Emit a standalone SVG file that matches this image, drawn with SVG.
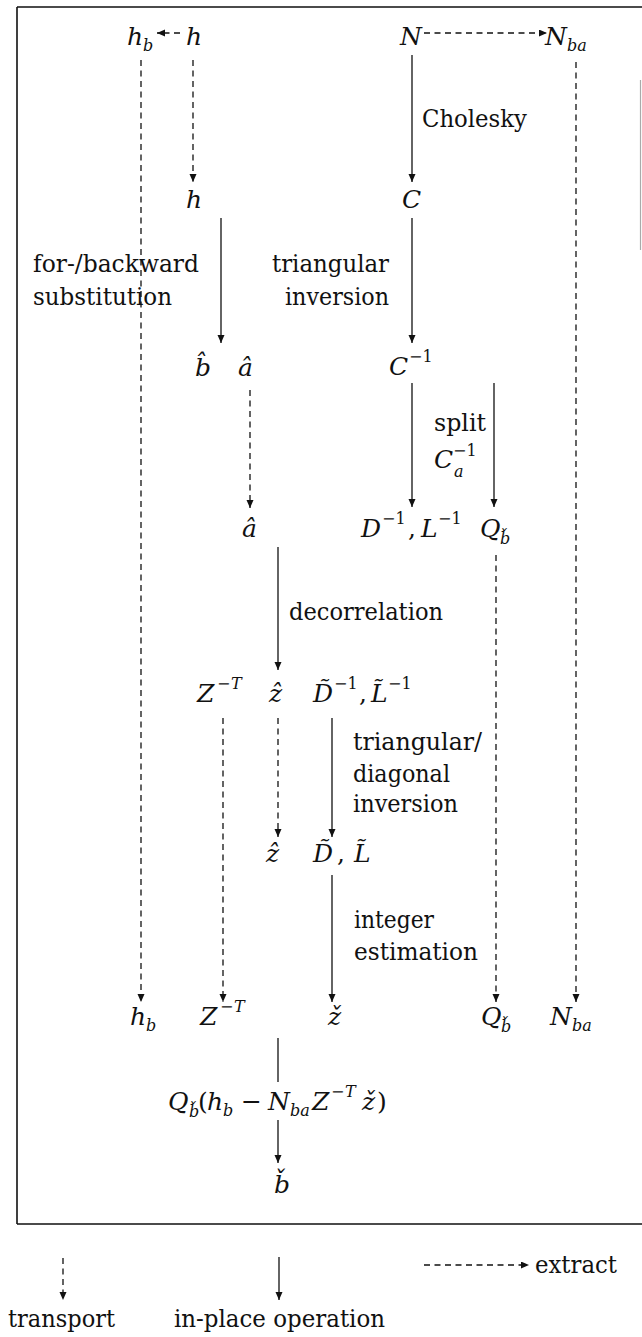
<svg xmlns="http://www.w3.org/2000/svg" width="642" height="1337" viewBox="0 0 642 1337">
<style>
text{font-family:"DejaVu Serif","Liberation Serif",serif;font-size:25px;fill:#111}
.lb{font-size:24px}
.m{font-style:italic}
.r{font-style:normal}
.s{font-size:16px}
.ln{stroke:#111;stroke-width:1.3;fill:none}
.d{stroke-dasharray:6 4.5}
.bd{stroke:#111;stroke-width:1.6;fill:none}
</style>
<defs>
<marker id="ah" markerUnits="userSpaceOnUse" markerWidth="9" markerHeight="8" refX="8" refY="3.5" orient="auto">
<path d="M0,0 L8,3.5 L0,7 z" fill="#111"/>
</marker>
</defs>
<g id="frame">
<path class="bd" d="M17,7 H642 M17,7 V1224 M17,1224 H642"/>
<path d="M640.5,80 V250" stroke="#aaa" stroke-width="1.2"/>
</g>
<g id="connectors">
<path class="ln d" d="M180,33 H157" marker-end="url(#ah)"/>
<path class="ln d" d="M424,33 H547" marker-end="url(#ah)"/>
<path class="ln d" d="M141,60 V1002" marker-end="url(#ah)"/>
<path class="ln d" d="M193,60 V182" marker-end="url(#ah)"/>
<path class="ln" d="M412,55 V182" marker-end="url(#ah)"/>
<path class="ln d" d="M576,62 V1002" marker-end="url(#ah)"/>
<path class="ln" d="M221,218 V343" marker-end="url(#ah)"/>
<path class="ln" d="M412,218 V343" marker-end="url(#ah)"/>
<path class="ln d" d="M250,390 V508" marker-end="url(#ah)"/>
<path class="ln" d="M412,383 V507" marker-end="url(#ah)"/>
<path class="ln" d="M494,383 V507" marker-end="url(#ah)"/>
<path class="ln" d="M278,547 V670" marker-end="url(#ah)"/>
<path class="ln d" d="M496,555 V1002" marker-end="url(#ah)"/>
<path class="ln d" d="M223,718 V1002" marker-end="url(#ah)"/>
<path class="ln d" d="M278,718 V837" marker-end="url(#ah)"/>
<path class="ln" d="M332,718 V837" marker-end="url(#ah)"/>
<path class="ln" d="M332,875 V1002" marker-end="url(#ah)"/>
<path class="ln" d="M278,1038 V1082"/>
<path class="ln" d="M278,1120 V1163" marker-end="url(#ah)"/>
</g>
<g id="n-hb-top"><text class="m" x="127" y="45">h<tspan class="s" x="143" y="51">b</tspan></text></g>
<g id="n-h-top"><text class="m" x="186" y="45">h</text></g>
<g id="n-N"><text class="m" x="400" y="45">N</text></g>
<g id="n-Nba-top"><text class="m" x="545" y="45">N<tspan class="s" x="567" y="51">ba</tspan></text></g>
<g id="l-cholesky"><text class="lb" x="422" y="127" textLength="105" lengthAdjust="spacingAndGlyphs">Cholesky</text></g>
<g id="n-h"><text class="m" x="186" y="208">h</text></g>
<g id="n-C"><text class="m" x="402" y="208">C</text></g>
<g id="l-subst"><text class="lb" x="33" y="272" textLength="166" lengthAdjust="spacingAndGlyphs">for-/backward</text><text class="lb" x="33" y="305" textLength="139" lengthAdjust="spacingAndGlyphs">substitution</text></g>
<g id="l-triinv"><text class="lb" x="272" y="272" textLength="117" lengthAdjust="spacingAndGlyphs">triangular</text><text class="lb" x="285" y="305" textLength="104" lengthAdjust="spacingAndGlyphs">inversion</text></g>
<g id="n-bhat-ahat"><text class="m" x="195" y="376">b&#x302;</text><text class="m" x="238" y="376">&#xE2;</text></g>
<g id="n-Cinv"><text class="m" x="389" y="375">C<tspan class="s r" x="409" y="362">&#x2212;1</tspan></text></g>
<g id="l-split"><text class="lb" x="434" y="431" textLength="52" lengthAdjust="spacingAndGlyphs">split</text><text class="m" x="434" y="468">C<tspan class="s r" x="453" y="456">&#x2212;1</tspan><tspan class="s" x="454" y="477">a</tspan></text></g>
<g id="n-ahat2"><text class="m" x="242" y="537">&#xE2;</text></g>
<g id="n-DL"><text class="m" x="361" y="537">D<tspan class="s r" x="382" y="524">&#x2212;1</tspan><tspan class="r" x="408" y="537">,</tspan><tspan x="421" y="537">L</tspan><tspan class="s r" x="438" y="524">&#x2212;1</tspan></text></g>
<g id="n-Qb"><text class="m" x="480" y="537">Q<tspan class="s" x="500" y="544">b&#x30C;</tspan></text></g>
<g id="l-decor"><text class="lb" x="289" y="620" textLength="154" lengthAdjust="spacingAndGlyphs">decorrelation</text></g>
<g id="n-ZT"><text class="m" x="197" y="702">Z<tspan class="s r" x="217" y="689">&#x2212;</tspan><tspan class="s" x="231" y="689">T</tspan></text></g>
<g id="n-zhat"><text class="m" x="269" y="702">&#x1E91;</text></g>
<g id="n-DLt-inv"><text class="m" x="313" y="702">D&#x303;<tspan class="s r" x="334" y="689">&#x2212;1</tspan><tspan class="r" x="359" y="702">,</tspan><tspan x="371" y="702">L&#x303;</tspan><tspan class="s r" x="388" y="689">&#x2212;1</tspan></text></g>
<g id="l-tridiag"><text class="lb" x="353" y="750" textLength="129" lengthAdjust="spacingAndGlyphs">triangular/</text><text class="lb" x="353" y="782" textLength="97" lengthAdjust="spacingAndGlyphs">diagonal</text><text class="lb" x="353" y="812" textLength="105" lengthAdjust="spacingAndGlyphs">inversion</text></g>
<g id="n-zhat2"><text class="m" x="266" y="862">&#x1E91;</text></g>
<g id="n-DLt"><text class="m" x="313" y="862">D&#x303;<tspan class="r" x="337" y="862">,</tspan><tspan x="354" y="862">L&#x303;</tspan></text></g>
<g id="l-intest"><text class="lb" x="354" y="928" textLength="80" lengthAdjust="spacingAndGlyphs">integer</text><text class="lb" x="354" y="960" textLength="124" lengthAdjust="spacingAndGlyphs">estimation</text></g>
<g id="n-hb"><text class="m" x="130" y="1025">h<tspan class="s" x="146" y="1031">b</tspan></text></g>
<g id="n-ZT2"><text class="m" x="200" y="1025">Z<tspan class="s r" x="220" y="1012">&#x2212;</tspan><tspan class="s" x="234" y="1012">T</tspan></text></g>
<g id="n-zcheck"><text class="m" x="328" y="1025">&#x17E;</text></g>
<g id="n-Qb2"><text class="m" x="481" y="1025">Q<tspan class="s" x="501" y="1032">b&#x30C;</tspan></text></g>
<g id="n-Nba"><text class="m" x="550" y="1025">N<tspan class="s" x="572" y="1031">ba</tspan></text></g>
<g id="n-formula"><text class="m" x="168" y="1110">Q<tspan class="s" x="189" y="1117">b&#x30C;</tspan><tspan class="r" x="198" y="1110">(</tspan><tspan x="207" y="1110">h</tspan><tspan class="s" x="223" y="1116">b</tspan><tspan class="r" x="241" y="1110">&#x2212;</tspan><tspan x="268" y="1110">N</tspan><tspan class="s" x="290" y="1116">ba</tspan><tspan x="312" y="1110">Z</tspan><tspan class="s r" x="331" y="1097">&#x2212;</tspan><tspan class="s" x="345" y="1097">T</tspan><tspan x="362" y="1110">&#x17E;</tspan><tspan class="r" x="377" y="1110">)</tspan></text></g>
<g id="n-bcheck"><text class="m" x="274" y="1193">b&#x30C;</text></g>
<g id="legend">
<path class="ln d" d="M63,1258 V1300" marker-end="url(#ah)"/>
<path class="ln" d="M279,1257 V1300" marker-end="url(#ah)"/>
<path class="ln d" d="M424,1265 H529" marker-end="url(#ah)"/>
<text class="lb" x="8" y="1327" textLength="107" lengthAdjust="spacingAndGlyphs">transport</text>
<text class="lb" x="174" y="1327" textLength="211" lengthAdjust="spacingAndGlyphs">in-place operation</text>
<text class="lb" x="535" y="1273" textLength="82" lengthAdjust="spacingAndGlyphs">extract</text>
</g>
</svg>
